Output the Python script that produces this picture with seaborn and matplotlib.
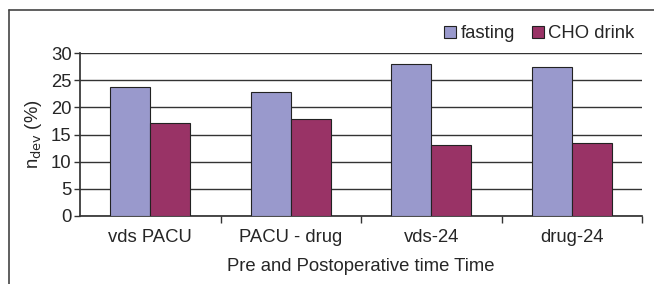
import pandas as pd
import matplotlib
matplotlib.use("Agg")
import matplotlib.pyplot as plt
from matplotlib.lines import Line2D
from matplotlib.patches import Patch
import seaborn as sns

categories = ["vds PACU", "PACU - drug", "vds-24", "drug-24"]
fasting = [23.8, 22.9, 27.9, 27.4]
cho_drink = [17.1, 17.9, 13.0, 13.4]
groups = ["fasting", "CHO drink"]
colors = ["#9999CC", "#993366"]

df = pd.DataFrame({
    "time": categories * 2,
    "group": [groups[0]] * 4 + [groups[1]] * 4,
    "value": fasting + cho_drink,
})

sns.set_theme(style="white")
plt.rcParams["font.family"] = ["Liberation Sans", "DejaVu Sans"]

fs = 13.3
fig = plt.figure(figsize=(6.54, 2.84), dpi=100)
ax = fig.add_axes([80 / 654, 1 - 216 / 284, 562 / 654, 163 / 284])

sns.barplot(data=df, x="time", y="value", hue="group", palette=colors,
            saturation=1, width=0.57, edgecolor="#222222", linewidth=0.8,
            legend=False, zorder=3, ax=ax)

ax.set_ylim(0, 30)
ax.set_xlim(-0.5, 3.5)
ax.set_yticks(range(0, 31, 5))
ax.yaxis.grid(True, color="#333333", linewidth=1.0, zorder=0)
ax.set_axisbelow(True)
for s in ["top", "right"]:
    ax.spines[s].set_visible(False)
ax.spines["left"].set_color("#333333")
ax.spines["bottom"].set_color("#333333")

ax.tick_params(axis="y", which="major", left=True, length=4, width=1,
               color="#333333", labelsize=fs, pad=2)
ax.tick_params(axis="x", which="major", bottom=False, labelsize=fs, pad=3)
ax.set_xticks([0.5, 1.5, 2.5, 3.5], minor=True)
ax.tick_params(axis="x", which="minor", bottom=True, length=5, width=1,
               color="#333333")

ax.set_xlabel("Pre and Postoperative time Time", fontsize=fs, labelpad=9)
ax.set_ylabel(r"n$_{\mathrm{dev}}$ (%)", fontsize=fs, labelpad=5)

handles = [Patch(facecolor=c, edgecolor="#222222", linewidth=0.8) for c in colors]
fig.legend(handles, groups, loc="upper right", bbox_to_anchor=(642 / 654, 1 - 18 / 284),
           ncol=2, frameon=False, fontsize=fs, handlelength=0.65, handleheight=0.65,
           handletextpad=0.25, columnspacing=0.9, borderaxespad=0)

# outer frame lines (top and left)
fig.add_artist(Line2D([9 / 654, 1], [1 - 10 / 284, 1 - 10 / 284],
                      transform=fig.transFigure, color="#444444", linewidth=1.2))
fig.add_artist(Line2D([9 / 654, 9 / 654], [0, 1 - 10 / 284],
                      transform=fig.transFigure, color="#444444", linewidth=1.2))

fig.savefig("out.png", dpi=100)
